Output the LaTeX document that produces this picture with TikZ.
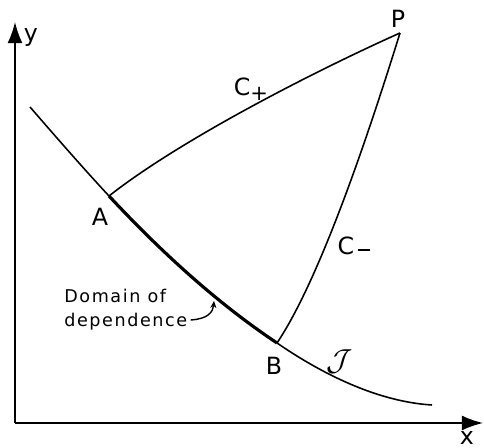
\documentclass[tikz,border=0pt]{standalone}
\usepackage{amsmath, amssymb}
\usepackage{fontspec}
\usepackage{tikz}
\usetikzlibrary{arrows.meta, positioning}
\setsansfont{DejaVu Sans}
\newfontfamily\lblfont[LetterSpace=9]{DejaVu Sans}

\begin{document}
\begin{tikzpicture}[
    x=0.02cm, y=-0.02cm,
    axis/.style={line width=0.9pt, -{Latex[length=12pt, width=8.5pt]}},
    curve/.style={line width=0.9pt},
    thickcurve/.style={line width=1.8pt},
    lbl/.style={font=\sffamily\fontsize{13.5}{16}\selectfont, inner sep=0pt},
    note/.style={font=\lblfont\fontsize{10}{13.6}\selectfont, align=left, inner sep=0pt}
  ]
    \useasboundingbox (0,0) rectangle (484,448);

    % Axes
    \coordinate (orig) at (15,423);
    \coordinate (ytip) at (15,22);
    \coordinate (xtip) at (483,423);
    \draw[axis] (orig) -- (ytip);
    \draw[axis] (orig) -- (xtip);
    \node[lbl] (ylbl) at (31,37) {y};
    \node[lbl] (xlbl) at (467,438) {x};

    % Points
    \coordinate (pA) at (109,196);
    \coordinate (pB) at (277,343);
    \coordinate (pP) at (400,33);
    \coordinate (istart) at (30,107);
    \coordinate (iend) at (432,405);

    % Initial curve
    \draw[curve] (istart) .. controls (56,137) and (83,168) .. (pA);
    \draw[thickcurve] (pA) .. controls (165,256) and (220,305) .. (pB);
    \draw[curve] (pB) .. controls (328,378) and (382,402) .. (iend);

    % Characteristics
    \draw[curve] (pA) .. controls (180,140) and (315,71) .. (pP);
    \draw[curve] (pB) .. controls (322,276) and (372,123) .. (pP);

    % Labels
    \node[lbl] (lblP) at (398,19) {P};
    \node[lbl] (lblA) at (100,217) {A};
    \node[lbl] (lblB) at (274,366) {B};
    \node[lbl] (cplus) at (251,89) {C\raisebox{-0.35ex}{\fontsize{12}{12}\selectfont +}};
    \node[lbl] (cminus) at (354,246) {C\,\rule[2.2pt]{7pt}{1.2pt}};
    \node[lbl] (lblI) at (340,362) {\fontsize{16}{16}\selectfont$\mathcal{J}$};

    % Domain of dependence
    \node[note, anchor=west] (dod) at (64,310) {Domain of\\dependence};
    \draw[line width=0.8pt, -{Stealth[length=4pt, width=3.5pt]}]
      ([xshift=0.6mm, yshift=-2mm]dod.east) .. controls (208,319) and (213,312) .. (214,301);
  \end{tikzpicture}
\end{document}
